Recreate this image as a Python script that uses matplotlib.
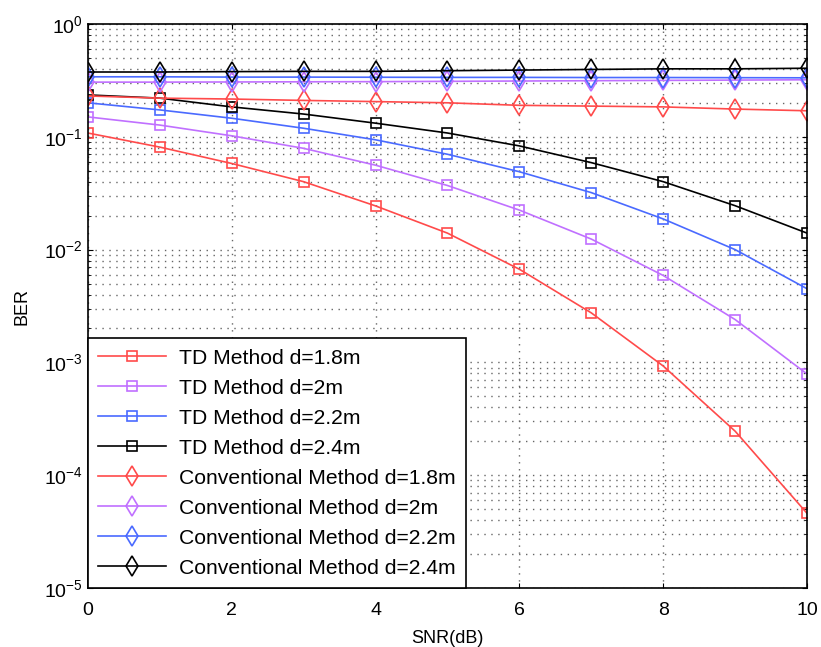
import matplotlib
matplotlib.use("Agg")
import matplotlib.pyplot as plt
import numpy as np

plt.rcParams["font.family"] = ["Liberation Sans", "DejaVu Sans"]

snr = np.arange(0, 11)

# TD method BER curves
td_18 = [0.108, 0.081, 0.058, 0.040, 0.0244, 0.014, 0.0067, 0.00275, 0.00093, 0.000246, 0.000046]
td_20 = [0.150, 0.127, 0.102, 0.079, 0.056, 0.037, 0.0224, 0.0124, 0.0059, 0.0024, 0.00079]
td_22 = [0.200, 0.173, 0.146, 0.119, 0.094, 0.070, 0.049, 0.032, 0.0187, 0.0100, 0.0045]
td_24 = [0.235, 0.220, 0.184, 0.159, 0.132, 0.108, 0.083, 0.059, 0.040, 0.0245, 0.014]

# conventional method BER curves
cv_18 = [0.230, 0.220, 0.216, 0.210, 0.205, 0.200, 0.190, 0.187, 0.184, 0.176, 0.170]
cv_20 = [0.305, 0.305, 0.306, 0.307, 0.308, 0.310, 0.312, 0.314, 0.316, 0.318, 0.320]
cv_22 = [0.340, 0.340, 0.338, 0.338, 0.337, 0.336, 0.336, 0.335, 0.335, 0.334, 0.333]
cv_24 = [0.375, 0.375, 0.378, 0.380, 0.380, 0.385, 0.390, 0.395, 0.400, 0.400, 0.405]

labels = ["TD Method d=1.8m", "TD Method d=2m", "TD Method d=2.2m", "TD Method d=2.4m",
          "Conventional Method d=1.8m", "Conventional Method d=2m",
          "Conventional Method d=2.2m", "Conventional Method d=2.4m"]
colors = ["#ff4a4a", "#c070ff", "#4a6aff", "#000000"]

fig = plt.figure(figsize=(8.21, 6.47), dpi=100)
ax = fig.add_axes([0.107, 0.091, 0.876, 0.872])

for ys, c, lab in zip([td_18, td_20, td_22, td_24], colors, labels[:4]):
    ax.semilogy(snr, ys, color=c, marker="s", ms=7.5, mfc="none", mec=c, mew=1.2, lw=1.2, label=lab)
for ys, c, lab in zip([cv_18, cv_20, cv_22, cv_24], colors, labels[4:]):
    ax.semilogy(snr, ys, color=c, marker="d", ms=10, mfc="none", mec=c, mew=1.2, lw=1.2, label=lab)

ax.set_xlim(0, 10)
ax.set_ylim(1e-5, 1)
ax.set_xticks([0, 2, 4, 6, 8, 10])
ax.grid(True, which="major", ls=(0, (1, 4)), color="#666666", lw=1)
ax.grid(True, which="minor", axis="y", ls=(0, (1, 4)), color="#666666", lw=1)
ax.tick_params(which="both", direction="in", top=True, right=True, labelsize=14)
ax.tick_params(axis="x", pad=10)
for s in ax.spines.values():
    s.set_linewidth(1.2)
ax.set_xlabel("SNR(dB)", fontsize=13, labelpad=8)
ax.set_ylabel("BER", fontsize=13, labelpad=10)

leg = ax.legend(loc="lower left", fontsize=15.2, handlelength=3.2, borderaxespad=0,
                fancybox=False, framealpha=1, edgecolor="black", labelspacing=0.52,
                borderpad=0.5, handletextpad=0.6)
leg.get_frame().set_linewidth(1.2)

fig.savefig("out.png", dpi=100)
